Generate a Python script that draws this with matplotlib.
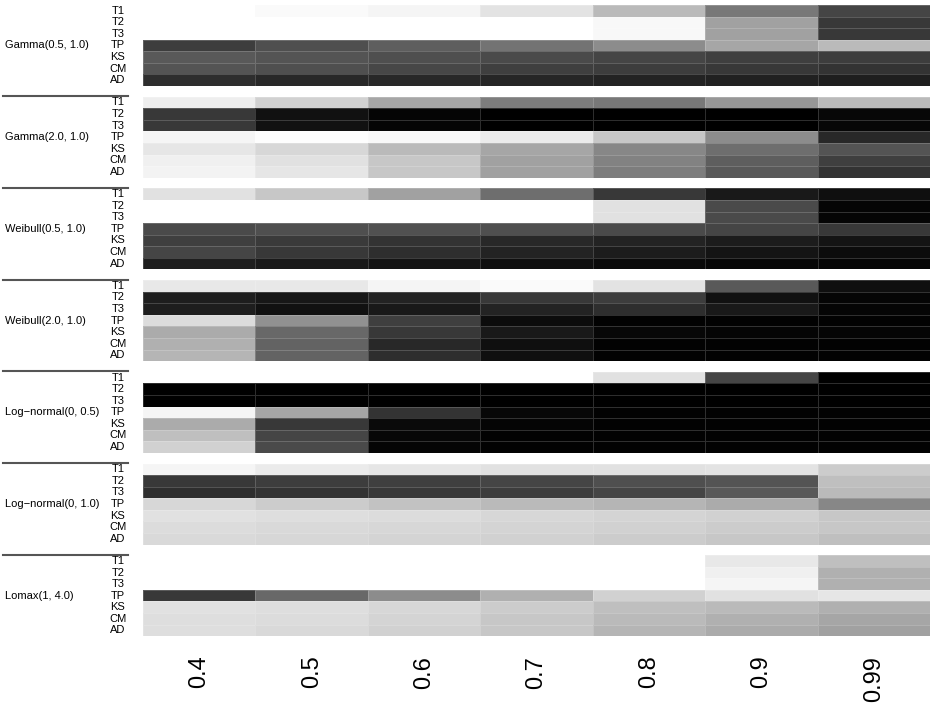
import matplotlib
matplotlib.use('Agg')
import matplotlib.pyplot as plt
import numpy as np
from matplotlib.colors import LinearSegmentedColormap
from matplotlib.lines import Line2D

plt.rcParams['font.family'] = ['Liberation Sans', 'DejaVu Sans']

# ── data: power (0 = white, 1 = black) ─────────────────────────
levels = ['0.4', '0.5', '0.6', '0.7', '0.8', '0.9', '0.99']
tests = ['T1', 'T2', 'T3', 'TP', 'KS', 'CM', 'AD']
groups = ['Gamma(0.5, 1.0)', 'Gamma(2.0, 1.0)', 'Weibull(0.5, 1.0)', 'Weibull(2.0, 1.0)',
          'Log\u2212normal(0, 0.5)', 'Log\u2212normal(0, 1.0)', 'Lomax(1, 4.0)']

gamma_05 = [[0.00, 0.02, 0.04, 0.11, 0.27, 0.53, 0.73],
            [0.00, 0.00, 0.00, 0.00, 0.03, 0.37, 0.78],
            [0.00, 0.00, 0.00, 0.00, 0.03, 0.37, 0.78],
            [0.76, 0.69, 0.63, 0.55, 0.45, 0.35, 0.27],
            [0.65, 0.67, 0.69, 0.71, 0.73, 0.75, 0.76],
            [0.67, 0.69, 0.72, 0.75, 0.76, 0.78, 0.80],
            [0.82, 0.84, 0.84, 0.85, 0.86, 0.87, 0.88]]
gamma_20 = [[0.07, 0.18, 0.35, 0.51, 0.53, 0.41, 0.27],
            [0.78, 0.93, 0.98, 1.00, 1.00, 1.00, 0.97],
            [0.78, 0.93, 0.98, 1.00, 1.00, 1.00, 0.97],
            [0.04, 0.01, 0.03, 0.08, 0.22, 0.45, 0.84],
            [0.10, 0.16, 0.27, 0.35, 0.47, 0.57, 0.67],
            [0.06, 0.12, 0.22, 0.37, 0.49, 0.63, 0.75],
            [0.05, 0.10, 0.22, 0.37, 0.51, 0.65, 0.80]]
weibull_05 = [[0.12, 0.22, 0.37, 0.57, 0.78, 0.90, 0.94],
              [0.00, 0.00, 0.00, 0.00, 0.12, 0.71, 0.98],
              [0.00, 0.00, 0.00, 0.00, 0.12, 0.71, 0.98],
              [0.71, 0.69, 0.68, 0.69, 0.71, 0.73, 0.78],
              [0.75, 0.77, 0.80, 0.84, 0.86, 0.89, 0.92],
              [0.73, 0.78, 0.82, 0.86, 0.89, 0.92, 0.95],
              [0.88, 0.90, 0.92, 0.94, 0.96, 0.97, 0.98]]
weibull_20 = [[0.09, 0.09, 0.04, 0.02, 0.11, 0.65, 0.94],
              [0.88, 0.91, 0.86, 0.78, 0.76, 0.93, 0.98],
              [0.88, 0.93, 0.90, 0.86, 0.82, 0.90, 0.98],
              [0.14, 0.43, 0.75, 0.95, 0.99, 0.99, 0.99],
              [0.33, 0.59, 0.78, 0.90, 0.97, 0.98, 0.98],
              [0.31, 0.61, 0.84, 0.94, 0.99, 0.99, 0.99],
              [0.29, 0.61, 0.82, 0.94, 0.99, 0.99, 0.99]]
lognorm_05 = [[0.00, 0.00, 0.00, 0.00, 0.12, 0.73, 1.00],
              [1.00, 1.00, 1.00, 1.00, 1.00, 1.00, 1.00],
              [1.00, 1.00, 1.00, 1.00, 1.00, 1.00, 1.00],
              [0.04, 0.35, 0.80, 0.97, 0.99, 0.99, 0.99],
              [0.33, 0.78, 0.96, 0.98, 0.99, 0.99, 0.99],
              [0.25, 0.73, 0.97, 0.99, 0.99, 0.99, 0.99],
              [0.18, 0.71, 0.98, 0.99, 0.99, 0.99, 0.99]]
lognorm_10 = [[0.04, 0.08, 0.10, 0.12, 0.12, 0.11, 0.20],
              [0.78, 0.76, 0.75, 0.73, 0.69, 0.67, 0.25],
              [0.82, 0.80, 0.78, 0.76, 0.73, 0.65, 0.27],
              [0.16, 0.20, 0.24, 0.27, 0.29, 0.33, 0.47],
              [0.12, 0.13, 0.14, 0.16, 0.17, 0.18, 0.22],
              [0.14, 0.15, 0.16, 0.17, 0.18, 0.20, 0.22],
              [0.15, 0.16, 0.17, 0.18, 0.20, 0.22, 0.25]]
lomax_14 = [[0.00, 0.00, 0.00, 0.00, 0.00, 0.09, 0.25],
            [0.00, 0.00, 0.00, 0.00, 0.00, 0.06, 0.31],
            [0.00, 0.00, 0.00, 0.00, 0.00, 0.04, 0.31],
            [0.78, 0.59, 0.45, 0.31, 0.18, 0.12, 0.10],
            [0.12, 0.13, 0.16, 0.20, 0.25, 0.27, 0.31],
            [0.13, 0.14, 0.17, 0.22, 0.27, 0.31, 0.35],
            [0.13, 0.15, 0.18, 0.22, 0.29, 0.33, 0.37]]

all_data = [gamma_05, gamma_20, weibull_05, weibull_20, lognorm_05, lognorm_10, lomax_14]

# ── layout (pixels) ──────────────────────────────────────────
W, H = 935, 706
x0, x1 = 143, 930
top0, step, gh = 5, 91.7, 81

cmap = LinearSegmentedColormap.from_list('wb', ['#ffffff', '#000000'])

fig = plt.figure(figsize=(W / 100, H / 100), dpi=100)
fig.patch.set_facecolor('white')

for k, (name, data) in enumerate(zip(groups, all_data)):
    top = top0 + k * step
    ax = fig.add_axes([x0 / W, 1 - (top + gh) / H, (x1 - x0) / W, gh / H])
    ax.pcolormesh(np.array(data), cmap=cmap, vmin=0, vmax=1,
                  edgecolors=(1, 1, 1, 0.18), linewidth=0.6)
    ax.set_xlim(0, len(levels))
    ax.set_ylim(len(tests), 0)
    for s in ax.spines.values():
        s.set_visible(False)
    ax.set_yticks([])
    if k == len(groups) - 1:
        ax.set_xticks(np.arange(len(levels)) + 0.5)
        ax.set_xticklabels(levels, rotation=90, fontsize=17, va='top')
        ax.tick_params(axis='x', length=0, pad=14)
    else:
        ax.set_xticks([])

    # row labels
    rh = gh / len(tests)
    for i, t in enumerate(tests):
        fig.text(118 / W, 1 - (top + (i + 0.5) * rh) / H, t, fontsize=8,
                 ha='center', va='center')
    fig.text(5 / W, 1 - (top + 3.5 * rh) / H, name, fontsize=8,
             ha='left', va='center')
    if k > 0:
        yl = 1 - (top - 0.5) / H
        fig.add_artist(Line2D([3 / W, 128 / W], [yl, yl], color='#555555',
                              linewidth=1.5, transform=fig.transFigure))

plt.savefig('out.png', dpi=100, facecolor='white')
plt.close()
